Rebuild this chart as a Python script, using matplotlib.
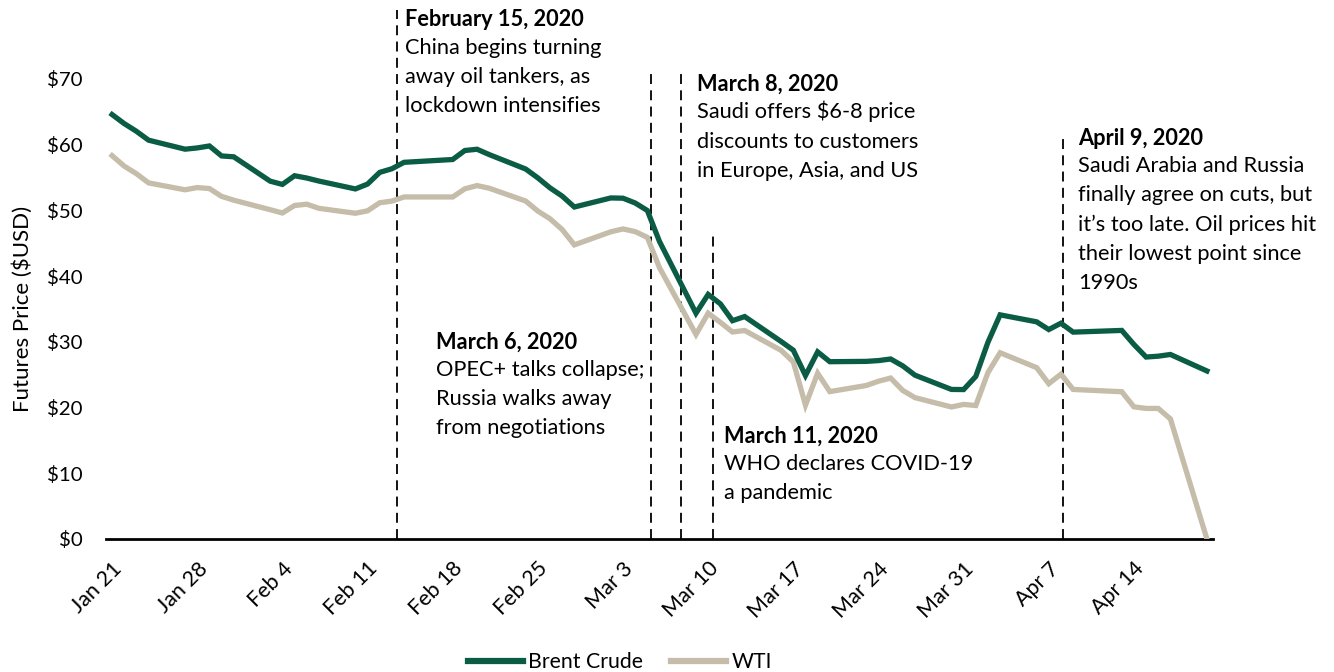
import pandas as pd
import matplotlib
matplotlib.use('Agg')
import matplotlib.pyplot as plt
import matplotlib.dates as mdates
from matplotlib.lines import Line2D

plt.rcParams['font.family'] = ['Lato', 'DejaVu Sans']

# trading days Jan 21 - Apr 20, 2020 (Presidents Day and Good Friday missing)
holidays = ['2020-02-17', '2020-04-10']
dates = pd.bdate_range('2020-01-21', '2020-04-20').drop(pd.to_datetime(holidays))

brent = [64.59, 63.21, 62.04, 60.69, 59.32, 59.51, 59.81, 58.29, 58.16,
         54.45, 53.96, 55.28, 54.93, 54.47, 53.27, 54.01, 55.79, 56.34, 57.32,
         57.75, 59.12, 59.31, 58.50, 56.30, 54.95, 53.43, 52.18, 50.52,
         51.90, 51.86, 51.13, 49.99, 45.27, 34.36, 37.22, 35.79, 33.22, 33.85,
         30.05, 28.73, 24.88, 28.47, 26.98, 27.03, 27.15, 27.39, 26.34, 24.93,
         22.76, 22.74,
         24.74, 29.94, 34.11, 33.05, 31.87, 32.84, 31.48, 31.74, 29.60, 27.69,
         27.82, 28.08, 25.57]
wti = [58.34, 56.74, 55.59, 54.19, 53.14, 53.48, 53.33, 52.14, 51.56,
       50.11, 49.61, 50.75, 50.95, 50.32, 49.57, 49.94, 51.17, 51.42, 52.05,
       52.05, 53.29, 53.78, 53.38, 51.43, 49.90, 48.73, 47.09, 44.76,
       46.75, 47.18, 46.78, 45.90, 41.28, 31.13, 34.36, 32.98, 31.50, 31.73,
       28.70, 26.95, 20.37, 25.22, 22.43, 23.36, 24.01, 24.49, 22.60, 21.51,
       20.09, 20.48,
       20.31, 25.32, 28.34, 26.08, 23.63, 25.09, 22.76, 22.41, 20.11, 19.87,
       19.87, 18.27, 0.0]

tick_labels = ['Jan 21', 'Jan 28', 'Feb 4', 'Feb 11', 'Feb 18', 'Feb 25', 'Mar 3',
               'Mar 10', 'Mar 17', 'Mar 24', 'Mar 31', 'Apr 7', 'Apr 14']
tick_dates = pd.date_range('2020-01-21', periods=len(tick_labels), freq='7D')

# dashed event lines: days after Jan 21, top of line ($)
event_days = [23.4, 44.3, 46.8, 49.4, 78.2]
event_tops = [80.5, 71.1, 71.1, 46.6, 61.8]

# notes: days after Jan 21, title y, body y (centre), title, body
notes = [
    (24.1, 79.0, 70.3, 'February 15, 2020',
     'China begins turning\naway oil tankers, as\nlockdown intensifies'),
    (48.1, 69.2, 60.6, 'March 8, 2020',
     'Saudi offers $6-8 price\ndiscounts to customers\nin Europe, Asia, and US'),
    (79.4, 61.0, 47.9, 'April 9, 2020',
     'Saudi Arabia and Russia\nfinally agree on cuts, but\nit\u2019s too late. Oil prices hit\ntheir lowest point since\n1990s'),
    (26.6, 30.0, 21.3, 'March 6, 2020',
     'OPEC+ talks collapse;\nRussia walks away\nfrom negotiations'),
    (50.3, 15.7, 9.2, 'March 11, 2020',
     'WHO declares COVID-19\na pandemic'),
]

brent_color = '#0B5C44'
wti_color = '#C5BCA9'

fig = plt.figure(figsize=(13.34, 6.72), dpi=100)
ax = fig.add_axes([106 / 1334, 1 - 539 / 672, (1213 - 106) / 1334, 460 / 672])

ax.plot(dates, wti, color=wti_color, lw=3.8, solid_joinstyle='miter', zorder=3)
ax.plot(dates, brent, color=brent_color, lw=3.8, solid_joinstyle='miter', zorder=4)

x0 = mdates.date2num(dates[0])
for d, top in zip(event_days, event_tops):
    ax.plot([x0 + d, x0 + d], [0, top], color='black', lw=1.3,
            ls=(0, (5.5, 3.5)), clip_on=False, zorder=2)

for d, ty, by, title, body in notes:
    ax.text(x0 + d, ty, title, fontsize=15.7, fontweight='bold', va='center',
            ha='left', clip_on=False)
    ax.text(x0 + d, by, body, fontsize=15.7, va='center', ha='left',
            linespacing=1.57, clip_on=False)

ax.set_xlim(x0 - 0.5, mdates.date2num(dates[-1]) + 0.5)
ax.set_ylim(0, 70)
ax.set_xticks(tick_dates)
ax.set_xticklabels(tick_labels, rotation=45, ha='right', rotation_mode='anchor',
                   fontsize=15.5)
ax.set_yticks(range(0, 80, 10))
ax.set_yticklabels(['$%d' % v for v in range(0, 80, 10)], fontsize=14.7)
ax.tick_params(axis='both', length=0)
ax.tick_params(axis='x', pad=14)
ax.tick_params(axis='y', pad=17)

for s in ['top', 'right', 'left']:
    ax.spines[s].set_visible(False)
ax.spines['bottom'].set_linewidth(2)
ax.spines['bottom'].set_color('black')

ax.set_ylabel('Futures Price ($USD)', fontsize=16)
ax.yaxis.set_label_coords(-0.066, 0.5)

handles = [Line2D([], [], color=brent_color, lw=4.5),
           Line2D([], [], color=wti_color, lw=4.5)]
fig.legend(handles, ['Brent Crude', 'WTI'], loc='center',
           bbox_to_anchor=(620 / 1334, 1 - 662 / 672), ncol=2, frameon=False,
           fontsize=15.3, handlelength=2.6, handletextpad=0.25, columnspacing=1.3)

fig.savefig('out.png', dpi=100)
